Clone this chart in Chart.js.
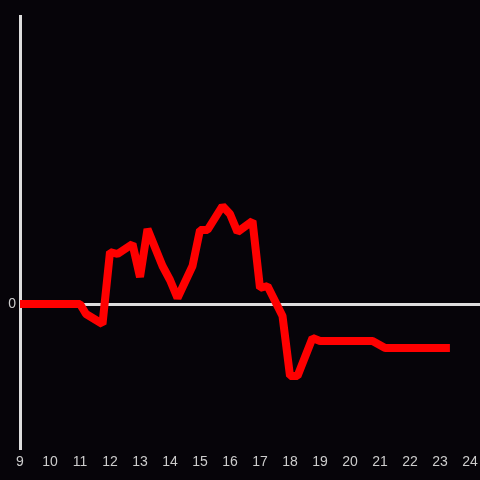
<!DOCTYPE html>
<html>
<head>
<meta charset="utf-8">
<script src="https://cdn.jsdelivr.net/npm/chart.js@4"></script>
<style>
  html, body { margin: 0; padding: 0; background: #060409; }
  canvas { display: block; }
</style>
</head>
<body>
<canvas id="c" width="480" height="480"></canvas>
<script>
const hours = [9.0, 11.0, 11.2, 11.75, 12.0, 12.25, 12.75, 13.0, 13.25, 13.75, 14.0, 14.25, 14.75, 15.0, 15.25, 15.75, 16.0, 16.25, 16.75, 17.0, 17.25, 17.75, 18.0, 18.25, 18.75, 19.0, 20.75, 21.17, 23.33];
const values = [0, 0, -2.5, -5, 13, 12.5, 15, 6.75, 18.75, 9.5, 6, 1.5, 9.5, 18.5, 18.5, 24.5, 22.5, 18, 20.75, 4, 4.5, -3, -18, -18, -8.5, -9.25, -9.25, -11, -11];
const xTicks = [9, 10, 11, 12, 13, 14, 15, 16, 17, 18, 19, 20, 21, 22, 23, 24];
const yTickLabels = ['0'];

const points = hours.map((h, i) => ({ x: h, y: values[i] }));

new Chart(document.getElementById('c'), {
  type: 'line',
  data: {
    datasets: [{
      data: points,
      borderColor: '#ff0000',
      borderWidth: 8,
      pointRadius: 0,
      tension: 0,
      fill: false,
      borderJoinStyle: 'bevel',
      borderCapStyle: 'butt'
    }]
  },
  options: {
    responsive: false,
    animation: false,
    layout: { padding: { top: 16, left: 0, right: 0, bottom: 0 } },
    plugins: { legend: { display: false }, tooltip: { enabled: false } },
    scales: {
      x: {
        type: 'linear',
        min: 9,
        max: 24.333,
        afterFit: s => { s.height = 32; s.paddingLeft = 0; s.paddingRight = 0; },
        afterBuildTicks: s => { s.ticks = xTicks.map(v => ({ value: v })); },
        grid: { display: false, drawTicks: false },
        border: { display: false },
        ticks: {
          color: '#cccccc',
          font: { family: 'Liberation Sans', size: 14 },
          padding: 6,
          maxRotation: 0,
          autoSkip: false,
          callback: v => String(v)
        }
      },
      y: {
        min: -36,
        max: 72,
        afterFit: s => { s.width = 20; s.paddingTop = 0; s.paddingBottom = 0; },
        afterBuildTicks: s => { s.ticks = [{ value: -36 }, { value: 0 }, { value: 36 }, { value: 72 }]; },
        grid: {
          drawTicks: false,
          lineWidth: 3,
          color: ctx => (ctx.tick && ctx.tick.value === 0) ? '#dddddd' : 'rgba(0,0,0,0)'
        },
        border: { display: true, color: '#dddddd', width: 3 },
        ticks: {
          color: '#cccccc',
          font: { family: 'Liberation Sans', size: 14 },
          padding: 4,
          callback: v => (v === 0 ? yTickLabels[0] : '')
        }
      }
    }
  }
});
</script>
</body>
</html>
